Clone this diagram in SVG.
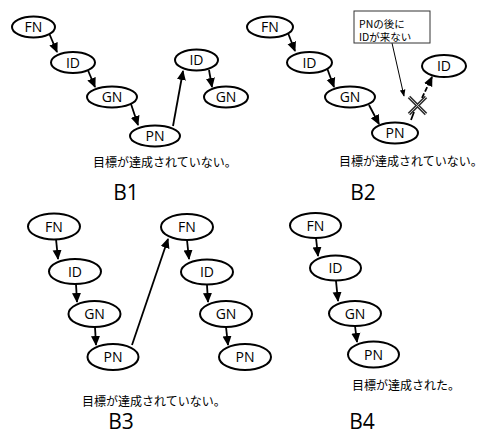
<svg xmlns="http://www.w3.org/2000/svg" width="484" height="436" viewBox="0 0 484 436">
<style>
.n ellipse{fill:#fff;stroke:#000;stroke-width:2}
.n text{font-family:"Open Sans","Liberation Sans",sans-serif;font-size:14px;text-anchor:middle;fill:#000}
.e line{stroke:#000;stroke-width:1.8;marker-end:url(#ah)}
.cap{font-family:"Noto Sans CJK JP",sans-serif;font-size:12px;fill:#000}
.bl{font-family:"Open Sans","Liberation Sans",sans-serif;font-size:21px;text-anchor:middle;fill:#000}
</style>
<defs>
<marker id="ah" markerUnits="userSpaceOnUse" markerWidth="10" markerHeight="10" viewBox="0 0 10 10" refX="9" refY="5" orient="auto"><path d="M0,0.5 L10,5 L0,9.5 Z" fill="#000"/></marker>
<marker id="ah2" markerUnits="userSpaceOnUse" markerWidth="7" markerHeight="7" viewBox="0 0 10 10" refX="9" refY="5" orient="auto"><path d="M0,1 L10,5 L0,9 Z" fill="#000"/></marker>
</defs>
<g id="connectors" class="e">
<line x1="49" y1="33" x2="57" y2="52"/>
<line x1="87" y1="68" x2="95" y2="87"/>
<line x1="131" y1="104" x2="138" y2="125"/>
<line x1="173" y1="126" x2="183" y2="71"/>
<line x1="209" y1="70" x2="212" y2="87"/>
<line x1="288" y1="33" x2="295" y2="51"/>
<line x1="327" y1="68" x2="334" y2="87"/>
<line x1="369" y1="105" x2="379" y2="124"/>
<line x1="56" y1="239" x2="58" y2="259"/>
<line x1="76" y1="284" x2="77" y2="302"/>
<line x1="95" y1="327" x2="96" y2="345"/>
<line x1="132" y1="345" x2="168" y2="239"/>
<line x1="187" y1="240" x2="189" y2="259"/>
<line x1="207" y1="285" x2="208" y2="302"/>
<line x1="226" y1="327" x2="228" y2="345"/>
<line x1="316" y1="238" x2="318" y2="256"/>
<line x1="336" y1="281" x2="338" y2="301"/>
<line x1="355" y1="326" x2="357" y2="342"/>
<line x1="411" y1="120" x2="414" y2="112" style="marker-end:none"/>
<line x1="422" y1="98" x2="432" y2="77" stroke-dasharray="5,2"/>
<line x1="392" y1="43" x2="404" y2="96" style="stroke-width:1;marker-end:url(#ah2)"/>
</g>
<g id="cross">
<path d="M409,97 L426,114 M426,97 L409,114" stroke="#333" stroke-width="3.5" fill="none"/>
<path d="M409,97 L426,114 M426,97 L409,114" stroke="#bbb" stroke-width="1" fill="none"/>
</g>
<g id="b1-fn" class="n"><ellipse cx="33.5" cy="27" rx="21.5" ry="10.5"/><text x="33.5" y="32">FN</text></g>
<g id="b1-id" class="n"><ellipse cx="73" cy="62.5" rx="22" ry="10.5"/><text x="73" y="67.5">ID</text></g>
<g id="b1-gn" class="n"><ellipse cx="112" cy="97" rx="25" ry="10.5"/><text x="112" y="102">GN</text></g>
<g id="b1-pn" class="n"><ellipse cx="155" cy="136" rx="25" ry="10.5"/><text x="155" y="141">PN</text></g>
<g id="b1-id2" class="n"><ellipse cx="196.5" cy="60" rx="21.5" ry="10.5"/><text x="196.5" y="65">ID</text></g>
<g id="b1-gn2" class="n"><ellipse cx="226" cy="97" rx="22" ry="10.5"/><text x="226" y="102">GN</text></g>
<text class="cap" x="93" y="167">目標が達成されていない。</text>
<text class="bl" x="126" y="200">B1</text>

<g id="b2-fn" class="n"><ellipse cx="270" cy="27" rx="23" ry="10.5"/><text x="270" y="32">FN</text></g>
<g id="b2-id" class="n"><ellipse cx="309.5" cy="62.5" rx="22.5" ry="10.5"/><text x="309.5" y="67.5">ID</text></g>
<g id="b2-gn" class="n"><ellipse cx="350" cy="97" rx="25" ry="10.5"/><text x="350" y="102">GN</text></g>
<g id="b2-pn" class="n"><ellipse cx="395" cy="133" rx="23" ry="10.5"/><text x="395" y="138">PN</text></g>
<g id="b2-id2" class="n"><ellipse cx="444" cy="66" rx="22" ry="11"/><text x="444" y="71">ID</text></g>
<g id="b2-note">
<rect x="354" y="11" width="76" height="32" fill="#fff" stroke="#333" stroke-width="1"/>
<text class="cap" x="359" y="27.5" style="font-size:10.5px">PNの後に</text>
<text class="cap" x="359" y="40.5" style="font-size:10.5px">IDが来ない</text>
</g>
<text class="cap" x="339" y="166">目標が達成されていない。</text>
<text class="bl" x="363" y="200">B2</text>

<g id="b3-fn" class="n"><ellipse cx="54" cy="226.5" rx="26" ry="13"/><text x="54" y="231.5">FN</text></g>
<g id="b3-id" class="n"><ellipse cx="75" cy="271.5" rx="26" ry="12.5"/><text x="75" y="276.5">ID</text></g>
<g id="b3-gn" class="n"><ellipse cx="94.5" cy="314" rx="26" ry="13"/><text x="94.5" y="319">GN</text></g>
<g id="b3-pn" class="n"><ellipse cx="113" cy="357" rx="25.5" ry="13"/><text x="113" y="362">PN</text></g>
<g id="b3-fn2" class="n"><ellipse cx="187" cy="227" rx="26" ry="13"/><text x="187" y="232">FN</text></g>
<g id="b3-id2" class="n"><ellipse cx="207" cy="272" rx="26" ry="12.5"/><text x="207" y="277">ID</text></g>
<g id="b3-gn2" class="n"><ellipse cx="226" cy="314" rx="26" ry="13"/><text x="226" y="319">GN</text></g>
<g id="b3-pn2" class="n"><ellipse cx="245" cy="357" rx="26" ry="13"/><text x="245" y="362">PN</text></g>
<text class="cap" x="82" y="406">目標が達成されていない。</text>
<text class="bl" x="121" y="429">B3</text>

<g id="b4-fn" class="n"><ellipse cx="315.5" cy="225.5" rx="25.5" ry="12.5"/><text x="315.5" y="230.5">FN</text></g>
<g id="b4-id" class="n"><ellipse cx="335.5" cy="268" rx="25.5" ry="12.5"/><text x="335.5" y="273">ID</text></g>
<g id="b4-gn" class="n"><ellipse cx="355" cy="313.5" rx="26" ry="12.5"/><text x="355" y="318.5">GN</text></g>
<g id="b4-pn" class="n"><ellipse cx="373.5" cy="354.5" rx="25.5" ry="13"/><text x="373.5" y="359.5">PN</text></g>
<text class="cap" x="352" y="390">目標が達成された。</text>
<text class="bl" x="362" y="429">B4</text>
</svg>
